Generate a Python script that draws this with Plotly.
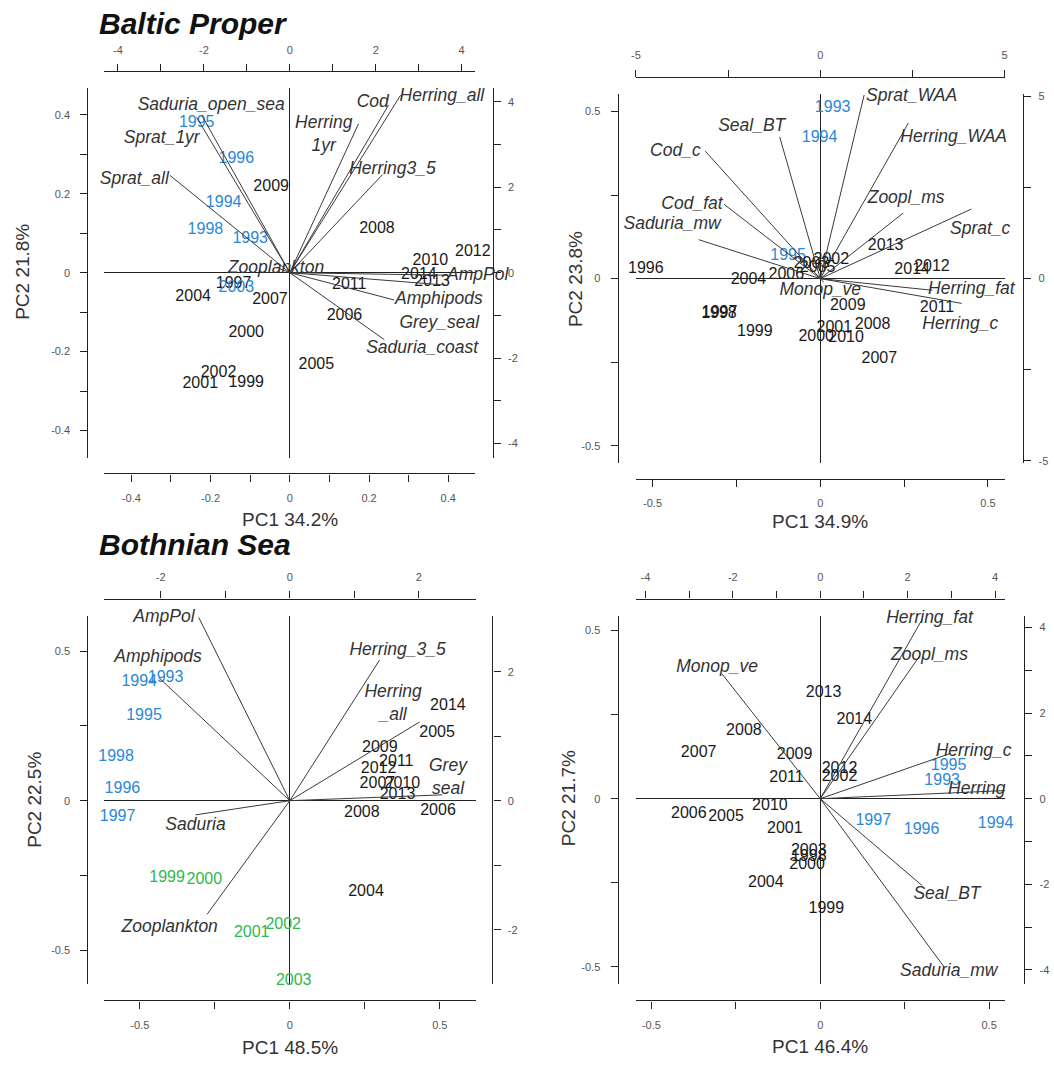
import plotly.graph_objects as go

W, H = 1054, 1066
FONT = "Arial, Liberation Sans, sans-serif"
BLUE = "#2a88d8"
GREEN = "#2db84d"
BLACK = "#1a1a1a"
VARCOL = "#333333"
COLORS = {"b": BLUE, "g": GREEN, "k": BLACK}

# ---------------- DATA ----------------
years = [1993, 1994, 1995, 1996, 1997, 1998, 1999, 2000, 2001, 2002, 2003,
         2004, 2005, 2006, 2007, 2008, 2009, 2010, 2011, 2012, 2013, 2014]

# Panel 1: Baltic Proper, PCA of abundances
bp1_pc1 = [-0.100, -0.167, -0.235, -0.135, -0.142, -0.213, -0.110, -0.110, -0.226, -0.180, -0.135,
           -0.244, 0.067, 0.138, -0.050, 0.220, -0.047, 0.355, 0.150, 0.462, 0.359, 0.326]
bp1_pc2 = [0.086, 0.176, 0.379, 0.289, -0.028, 0.107, -0.279, -0.153, -0.283, -0.254, -0.040,
           -0.061, -0.235, -0.111, -0.069, 0.111, 0.218, 0.029, -0.032, 0.052, -0.023, -0.007]
bp1_grp = ["b", "b", "b", "b", "k", "b", "k", "k", "k", "k", "b",
           "k", "k", "k", "k", "k", "k", "k", "k", "k", "k", "k"]
bp1_vars = ["Saduria_open_sea", "Sprat_1yr", "Sprat_all", "Herring\n1yr", "Cod", "Herring_all",
            "Herring3_5", "Zooplankton", "AmpPol", "Amphipods", "Grey_seal", "Saduria_coast"]
bp1_load1 = [-2.05, -2.17, -2.79, 1.60, 2.30, 2.58, 2.16, -0.25, 3.66, 2.43, 3.61, 2.20]
bp1_load2 = [3.69, 3.64, 2.28, 3.49, 3.93, 4.16, 2.30, 0.10, -0.06, -0.64, -0.29, -1.57]
bp1_lab1 = [-1.83, -2.98, -3.62, 0.79, 1.93, 3.54, 2.39, -0.32, 3.66, 3.47, 3.48, 3.08]
bp1_lab2 = [3.91, 3.13, 2.19, 3.23, 3.99, 4.13, 2.42, 0.09, -0.06, -0.64, -1.19, -1.78]
bp1_labpos = ["middle center"] * 8 + ["middle right"] + ["middle center"] * 3

# Panel 2: Baltic Proper, PCA of condition / size
bp2_pc1 = [0.037, -0.002, -0.096, -0.520, -0.300, -0.302, -0.195, -0.012, 0.042, 0.033, -0.026,
           -0.214, -0.008, -0.101, 0.176, 0.156, 0.082, 0.077, 0.348, 0.333, 0.195, 0.274]
bp2_pc2 = [0.510, 0.421, 0.067, 0.030, -0.104, -0.106, -0.160, -0.176, -0.148, 0.055, 0.044,
           -0.005, 0.032, 0.012, -0.242, -0.138, -0.081, -0.178, -0.087, 0.035, 0.099, 0.025]
bp2_grp = ["b", "b", "b", "k", "k", "k", "k", "k", "k", "k", "k",
           "k", "k", "k", "k", "k", "k", "k", "k", "k", "k", "k"]
bp2_vars = ["Seal_BT", "Cod_c", "Cod_fat", "Saduria_mw", "Sprat_WAA", "Herring_WAA",
            "Zoopl_ms", "Sprat_c", "Herring_fat", "Herring_c", "Monop_ve"]
bp2_load1 = [-1.10, -3.12, -2.61, -3.30, 1.19, 2.39, 2.25, 4.10, 3.04, 3.84, 0.10]
bp2_load2 = [3.89, 3.50, 2.04, 1.07, 5.04, 4.27, 1.80, 1.91, -0.32, -0.68, -0.10]
bp2_lab1 = [-1.86, -3.93, -3.48, -4.02, 2.48, 3.62, 2.33, 4.34, 4.10, 3.80, 0.00]
bp2_lab2 = [4.18, 3.50, 2.04, 1.47, 5.00, 3.86, 2.20, 1.35, -0.29, -1.25, -0.32]
bp2_labpos = ["middle center"] * 11

# Panel 3: Bothnian Sea, PCA of abundances
bs1_pc1 = [-0.414, -0.502, -0.486, -0.558, -0.574, -0.579, -0.409, -0.285, -0.127, -0.022, 0.013,
           0.254, 0.491, 0.494, 0.292, 0.240, 0.300, 0.375, 0.355, 0.296, 0.359, 0.527]
bs1_pc2 = [0.411, 0.397, 0.284, 0.040, -0.055, 0.147, -0.259, -0.266, -0.443, -0.417, -0.605,
           -0.307, 0.225, -0.033, 0.055, -0.041, 0.177, 0.055, 0.131, 0.106, 0.018, 0.317]
bs1_grp = ["b", "b", "b", "b", "b", "b", "g", "g", "g", "g", "g",
           "k", "k", "k", "k", "k", "k", "k", "k", "k", "k", "k"]
bs1_vars = ["AmpPol", "Amphipods", "Herring_3_5", "Herring\n_all", "Grey\nseal", "Saduria", "Zooplankton"]
bs1_load1 = [-1.41, -2.03, 1.39, 2.01, 2.36, -1.46, -1.28]
bs1_load2 = [2.84, 1.91, 2.18, 1.22, 0.09, -0.22, -1.76]
bs1_lab1 = [-1.95, -2.04, 1.67, 1.60, 2.45, -1.46, -1.86]
bs1_lab2 = [2.83, 2.22, 2.32, 1.50, 0.35, -0.39, -1.97]
bs1_labpos = ["middle center"] * 7

# Panel 4: Bothnian Sea, PCA of condition / size
bs2_pc1 = [0.361, 0.519, 0.380, 0.300, 0.157, -0.034, 0.018, -0.039, -0.105, 0.057, -0.034,
           -0.161, -0.279, -0.389, -0.360, -0.226, -0.076, -0.149, -0.100, 0.057, 0.010, 0.101]
bs2_pc2 = [0.053, -0.075, 0.096, -0.094, -0.067, -0.173, -0.328, -0.197, -0.089, 0.063, -0.155,
           -0.252, -0.055, -0.047, 0.135, 0.201, 0.130, -0.022, 0.061, 0.089, 0.315, 0.233]
bs2_grp = ["b", "b", "b", "b", "b", "k", "k", "k", "k", "k", "k",
           "k", "k", "k", "k", "k", "k", "k", "k", "k", "k", "k"]
bs2_vars = ["Monop_ve", "Herring_fat", "Zoopl_ms", "Herring_c", "Herring", "Seal_BT", "Saduria_mw"]
bs2_load1 = [-2.25, 2.33, 2.27, 2.98, 4.23, 2.33, 2.83]
bs2_load2 = [2.92, 4.19, 3.33, 1.06, 0.19, -2.03, -3.93]
bs2_lab1 = [-2.36, 2.50, 2.50, 3.51, 3.58, 2.90, 2.94]
bs2_lab2 = [3.07, 4.21, 3.34, 1.10, 0.21, -2.24, -4.04]
bs2_labpos = ["middle center"] * 7

pc1_titles = ["PC1 34.2%", "PC1 34.9%", "PC1 48.5%", "PC1 46.4%"]
pc2_titles = ["PC2 21.8%", "PC2 23.8%", "PC2 22.5%", "PC2 21.7%"]
region_titles = ["Baltic Proper", "Bothnian Sea"]

# tick specs
def tk(vals, labels):
    return dict(tickvals=vals, ticktext=labels)

t_01 = tk([-0.4, -0.3, -0.2, -0.1, 0, 0.1, 0.2, 0.3, 0.4], ["-0.4", "", "-0.2", "", "0", "", "0.2", "", "0.4"])
t_025 = tk([-0.5, -0.25, 0, 0.25, 0.5], ["-0.5", "", "0", "", "0.5"])
t_4 = tk(list(range(-4, 5)), ["-4", "", "-2", "", "0", "", "2", "", "4"])
t_5 = tk([-5, -2.5, 0, 2.5, 5], ["-5", "", "0", "", "5"])
t_2 = tk([-2, -1, 0, 1, 2], ["-2", "", "0", "", "2"])

# ---------------- LAYOUT GEOMETRY (pixels) ----------------
panels = [
    dict(rect=(100, 473, 85, 457), origin=(286.7, 270.7), ss=(398.75, 397.5), ls=(43.25, 43.0),
         lines=dict(bottom=473, top=68, left=83, right=491), ticks=(t_01, t_01, t_4, t_4),
         data=(bp1_pc1, bp1_pc2, bp1_grp, bp1_vars, bp1_load1, bp1_load2, bp1_lab1, bp1_lab2, bp1_labpos),
         t1=(287, 519), t2=(18, 270)),
    dict(rect=(635, 1007, 91, 462), origin=(820.7, 276.7), ss=(337.7, 336.7), ls=(37.1, 36.7),
         lines=dict(bottom=478.3, top=73.3, left=616.7, right=1025), ticks=(t_025, t_025, t_5, t_5),
         data=(bp2_pc1, bp2_pc2, bp2_grp, bp2_vars, bp2_load1, bp2_load2, bp2_lab1, bp2_lab2, bp2_labpos),
         t1=(820, 521), t2=(575, 277)),
    dict(rect=(100, 474, 617, 987), origin=(286.7, 802.7), ss=(302.0, 301.0), ls=(65.0, 65.0),
         lines=dict(bottom=1004, top=599, left=83, right=490.7), ticks=(t_025, t_025, t_2, t_2),
         data=(bs1_pc1, bs1_pc2, bs1_grp, bs1_vars, bs1_load1, bs1_load2, bs1_lab1, bs1_lab2, bs1_labpos),
         t1=(287, 1051), t2=(30, 802)),
    dict(rect=(635, 1007, 617, 987), origin=(820.7, 800.7), ss=(340.0, 338.7), ls=(44.0, 43.1),
         lines=dict(bottom=1004, top=599, left=616.7, right=1026), ticks=(t_025, t_025, t_4, t_4),
         data=(bs2_pc1, bs2_pc2, bs2_grp, bs2_vars, bs2_load1, bs2_load2, bs2_lab1, bs2_lab2, bs2_labpos),
         t1=(820, 1050), t2=(568, 800)),
]

fig = go.Figure()

axstyle = dict(showgrid=False, showline=True, linecolor="#222", linewidth=1.2,
               ticks="outside", ticklen=7, tickwidth=1.1, tickcolor="#222",
               tickfont=dict(family=FONT, size=11, color="#555"), tickmode="array",
               fixedrange=True)

layout_axes = {}
annotations = []

for i, p in enumerate(panels):
    n1, n2 = 2 * i + 1, 2 * i + 2
    xa = "x" if n1 == 1 else f"x{n1}"
    ya = "y" if n1 == 1 else f"y{n1}"
    xb, yb = f"x{n2}", f"y{n2}"
    x0, x1, y0, y1 = p["rect"]
    ox, oy = p["origin"]
    ssx, ssy = p["ss"]
    lsx, lsy = p["ls"]
    L = p["lines"]
    tb, tl, tt, tr = p["ticks"]
    xdom = [x0 / W, x1 / W]
    ydom = [1 - y1 / H, 1 - y0 / H]

    layout_axes["xaxis" if n1 == 1 else f"xaxis{n1}"] = dict(
        axstyle, domain=xdom, range=[(x0 - ox) / ssx, (x1 - ox) / ssx], anchor="free",
        position=1 - L["bottom"] / H, side="bottom", zeroline=True, zerolinecolor="#222",
        zerolinewidth=1, ticklabelstandoff=7, **tb)
    layout_axes["yaxis" if n1 == 1 else f"yaxis{n1}"] = dict(
        axstyle, domain=ydom, range=[(oy - y1) / ssy, (oy - y0) / ssy], anchor="free",
        position=L["left"] / W, side="left", zeroline=True, zerolinecolor="#222",
        zerolinewidth=1, ticklabelstandoff=8, **tl)
    layout_axes[f"xaxis{n2}"] = dict(
        axstyle, domain=xdom, range=[(x0 - ox) / lsx, (x1 - ox) / lsx], anchor="free",
        overlaying=xa, position=1 - L["top"] / H, side="top", zeroline=False,
        ticklabelstandoff=6, **tt)
    layout_axes[f"yaxis{n2}"] = dict(
        axstyle, domain=ydom, range=[(oy - y1) / lsy, (oy - y0) / lsy], anchor="free",
        overlaying=ya, position=L["right"] / W, side="right", zeroline=False,
        ticklabelstandoff=5, **tr)

    pc1, pc2, grp, vnames, ld1, ld2, lb1, lb2, lpos = p["data"]

    # loading vectors
    vx, vy = [], []
    for a, b in zip(ld1, ld2):
        vx += [0, a, None]
        vy += [0, b, None]
    fig.add_trace(go.Scatter(x=vx, y=vy, mode="lines", xaxis=xb, yaxis=yb,
                             line=dict(color="#3a3a3a", width=1), hoverinfo="skip",
                             showlegend=False))
    # variable labels
    fig.add_trace(go.Scatter(x=lb1, y=lb2, mode="text", xaxis=xb, yaxis=yb,
                             text=["<i>" + v.replace("\n", "<br>") + "</i>" for v in vnames],
                             textposition=lpos, cliponaxis=False,
                             textfont=dict(family=FONT, size=17.5, color=VARCOL),
                             hoverinfo="skip", showlegend=False))
    # year scores
    fig.add_trace(go.Scatter(x=pc1, y=pc2, mode="text", xaxis=xa, yaxis=ya,
                             text=[str(y) for y in years], textposition="middle center",
                             cliponaxis=False,
                             textfont=dict(family=FONT, size=16, color=[COLORS[g] for g in grp]),
                             hoverinfo="skip", showlegend=False))

    annotations.append(dict(text=pc1_titles[i], x=p["t1"][0] / W, y=1 - p["t1"][1] / H,
                            xref="paper", yref="paper", showarrow=False,
                            font=dict(family=FONT, size=19, color="#333"),
                            xanchor="center", yanchor="middle"))
    annotations.append(dict(text=pc2_titles[i], x=p["t2"][0] / W, y=1 - p["t2"][1] / H,
                            xref="paper", yref="paper", showarrow=False, textangle=-90,
                            font=dict(family=FONT, size=19, color="#333"),
                            xanchor="center", yanchor="middle"))

for t, yy in zip(region_titles, [20, 545]):
    annotations.append(dict(text=f"<b><i>{t}</i></b>", x=93 / W, y=1 - yy / H,
                            xref="paper", yref="paper", showarrow=False,
                            font=dict(family=FONT, size=30, color="#111"),
                            xanchor="left", yanchor="middle"))

fig.update_layout(width=W, height=H, margin=dict(l=0, r=0, t=0, b=0),
                  paper_bgcolor="white", plot_bgcolor="white", showlegend=False,
                  annotations=annotations, **layout_axes)

fig.write_html("out.html", config={"displayModeBar": False},
               post_script="document.body.style.margin='0px';")
